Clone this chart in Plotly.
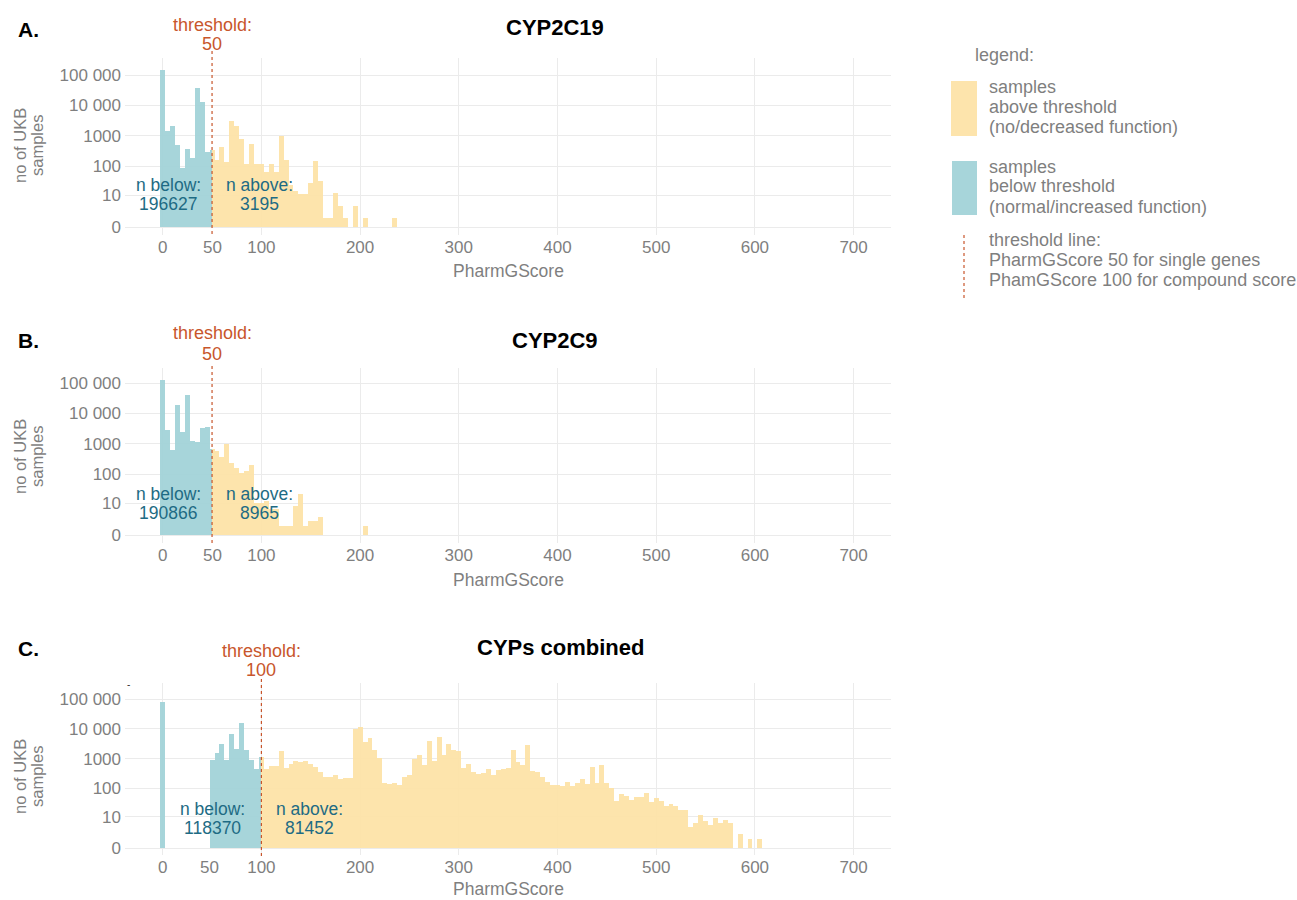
import numpy as np
import plotly.graph_objects as go

W, H = 1297, 900

# ---------------- data (bin centres, width 5) ----------------
BIN_WIDTH = 5

# Panel A: CYP2C19
a_centers = [0, 5, 10, 15, 20, 25, 30, 35, 40, 45, 50, 55, 60, 65, 70, 75, 80, 85, 90, 95,
             100, 105, 110, 115, 120, 125, 130, 135, 140, 145, 150, 155, 160, 165, 170, 175,
             180, 185, 190, 195, 200, 205, 235]
a_counts = [143000, 1440, 2050, 480, 88, 380, 180, 37000, 13200, 300, 340, 160, 430, 140, 3000,
            2100, 800, 115, 550, 120, 118, 63, 116, 63, 965, 160, 23, 14, 11, 11, 26, 150, 32,
            1, 1, 12, 4, 1, 0, 4, 0, 1, 1]

# Panel B: CYP2C9
b_centers = [0, 5, 10, 15, 20, 25, 30, 35, 40, 45, 50, 55, 60, 65, 70, 75, 80, 85, 90, 95,
             100, 105, 110, 115, 120, 125, 130, 135, 140, 145, 150, 155, 160, 205]
b_counts = [122000, 2900, 640, 18300, 2400, 40000, 1200, 1130, 3300, 3700, 670, 570, 360, 950,
            235, 160, 110, 125, 207, 10, 10, 12, 6, 6, 1, 1, 1, 8, 22, 1, 2, 2, 3, 1]

# Panel C: CYPs combined
c_centers = [0] + list(range(50, 610, 5))
c_counts = [81000,
            900, 1500, 3100, 900, 6500, 2050, 16000, 1950, 900, 450,            # 50-95
            1100, 435, 580, 580, 1800, 470, 640, 830, 770, 800,                # 100-145
            640, 510, 365, 245, 245, 280, 205, 215, 215, 9600,                 # 150-195
            11200, 3700, 4800, 1950, 1020, 148, 140, 155, 130, 245,            # 200-245
            285, 980, 1340, 615, 3750, 800, 5200, 1370, 3200, 1880,            # 250-295
            1780, 490, 655, 348, 300, 338, 442, 282, 418, 455,                 # 300-345
            480, 1960, 795, 630, 2950, 395, 350, 238, 168, 130,                # 350-395
            130, 121, 160, 122, 148, 205, 140, 508, 148, 595,                  # 400-445
            152, 100, 36, 66, 55, 40, 52, 52, 67, 33,                          # 450-495
            48, 38, 24, 28, 25, 18, 18, 4, 6, 12,                              # 500-545
            7, 5, 9, 6, 8, 6, 0, 2, 0, 1,                                      # 550-595
            0, 1]                                                             # 600-605

panels = [
    dict(title="CYP2C19", letter="A.", centers=a_centers, counts=a_counts, thr=50,
         n_below="196627", n_above="3195"),
    dict(title="CYP2C9", letter="B.", centers=b_centers, counts=b_counts, thr=50,
         n_below="190866", n_above="8965"),
    dict(title="CYPs combined", letter="C.", centers=c_centers, counts=c_counts, thr=100,
         n_below="118370", n_above="81452"),
]

y_tick_values = [0, 10, 100, 1000, 10000, 100000]
y_tick_text = ["0", "10", "100", "1000", "10 000", "100 000"]
x_tick_values = [0, 100, 200, 300, 400, 500, 600, 700]
x_tick_text = ["0", "100", "200", "300", "400", "500", "600", "700"]

legend_above = ["samples", "above threshold", "(no/decreased function)"]
legend_below = ["samples", "below threshold", "(normal/increased function)"]
legend_line = ["threshold line:", "PharmGScore 50 for single genes",
               "PhamGScore 100 for compound score"]

# ---------------- styles ----------------
BLUE = "rgba(160,209,215,0.92)"
YELLOW = "rgba(253,226,165,0.92)"
THR_COL = "#c8562c"
N_COL = "#1e6b84"
GREY = "#7f7f7f"
GRID = "#ebebeb"
FONT = "Liberation Sans, Arial, Helvetica, sans-serif"

# layout geometry in pixels (top, zero-line, px per decade)
geo = [
    dict(top=58, zero=227, dec=30.4, line=(48, 234), thr_txt=(25, 44), title_y=28,
         n_y=(185, 204), n_x=(168, 259), ytitle=146, xtitle=271, lbl50=(50, 247)),
    dict(top=368, zero=535, dec=30.4, line=(363, 543), thr_txt=(333, 354), title_y=340,
         n_y=(494, 513), n_x=(168, 259), ytitle=457, xtitle=580, lbl50=(50, 555)),
    dict(top=683, zero=848, dec=29.8, line=(678, 856), thr_txt=(651, 670), title_y=647,
         n_y=(809, 828), n_x=(212, 309), ytitle=777, xtitle=889, lbl50=(47, 867)),
]
X_LEFT, X_RIGHT = 125, 891
X0_PX, PX_PER_UNIT = 162.7, 0.987


def px(xp):
    return xp / W


def py(ypix):
    return 1 - ypix / H


x_range = [(X_LEFT - X0_PX) / PX_PER_UNIT, (X_RIGHT - X0_PX) / PX_PER_UNIT]

fig = go.Figure()
annotations = []
shapes = []

for i, (p, g) in enumerate(zip(panels, geo)):
    idx = "" if i == 0 else str(i + 1)
    xa, ya = "x" + idx, "y" + idx
    thr = p["thr"]
    bx, bw, by, yx, yw, yy = [], [], [], [], [], []
    for c, n in zip(p["centers"], p["counts"]):
        if n <= 0:
            continue
        h = np.log10(1 + n)
        lo, hi = c - BIN_WIDTH / 2, c + BIN_WIDTH / 2
        if lo < thr:
            b_hi = min(hi, thr)
            bx.append((lo + b_hi) / 2); bw.append(b_hi - lo); by.append(h)
        if hi > thr:
            y_lo = max(lo, thr)
            yx.append((y_lo + hi) / 2); yw.append(hi - y_lo); yy.append(h)
    fig.add_trace(go.Bar(x=bx, y=by, width=bw, marker=dict(color=BLUE, line=dict(width=0)),
                         xaxis=xa, yaxis=ya, showlegend=False, hoverinfo="skip"))
    fig.add_trace(go.Bar(x=yx, y=yy, width=yw, marker=dict(color=YELLOW, line=dict(width=0)),
                         xaxis=xa, yaxis=ya, showlegend=False, hoverinfo="skip"))

    bottom_px = g["zero"] + 0.25 * g["dec"]
    y_top = (g["zero"] - g["top"]) / g["dec"]
    ydom = [py(bottom_px), py(g["top"])]
    common = dict(showgrid=True, gridcolor=GRID, gridwidth=1, zeroline=False, showline=False,
                  ticks="", automargin=False,
                  tickfont=dict(family=FONT, size=17, color=GREY))
    fig.update_layout({
        "xaxis" + idx: dict(domain=[px(X_LEFT), px(X_RIGHT)], range=x_range, anchor=ya,
                            tickvals=x_tick_values, ticktext=x_tick_text, **common),
        "yaxis" + idx: dict(domain=ydom, range=[-0.25, y_top], anchor=xa,
                            tickvals=[np.log10(1 + v) for v in y_tick_values],
                            ticktext=y_tick_text, ticklabelstandoff=3, **common),
    })

    # threshold line
    shapes.append(dict(type="line", xref=xa, yref="paper", x0=thr, x1=thr,
                       y0=py(g["line"][1]), y1=py(g["line"][0]),
                       line=dict(color=THR_COL, width=1.2, dash="dot")))
    # threshold text
    for txt, yp in zip(["threshold:", str(thr)], g["thr_txt"]):
        annotations.append(dict(text=txt, xref=xa, yref="paper", x=thr, y=py(yp),
                                xanchor="center", yanchor="middle", showarrow=False,
                                font=dict(family=FONT, size=18, color=THR_COL)))
    # extra "50" tick label
    annotations.append(dict(text="50", xref=xa, yref="paper", x=g["lbl50"][0],
                            y=py(g["lbl50"][1]), xanchor="center", yanchor="middle",
                            showarrow=False, font=dict(family=FONT, size=17, color=GREY)))
    # titles
    annotations.append(dict(text="<b>" + p["title"] + "</b>", xref="paper", yref="paper",
                            x=px(555 if i < 2 else 560), y=py(g["title_y"]), xanchor="center",
                            yanchor="middle", showarrow=False,
                            font=dict(family=FONT, size=22, color="black")))
    annotations.append(dict(text="<b>" + p["letter"] + "</b>", xref="paper", yref="paper",
                            x=px(16), y=py(g["title_y"] + 1), xanchor="left", yanchor="middle",
                            showarrow=False, font=dict(family=FONT, size=21, color="black")))
    # n below / n above
    for xc, lines in zip(g["n_x"], [["n below:", p["n_below"]], ["n above:", p["n_above"]]]):
        for txt, yp in zip(lines, g["n_y"]):
            annotations.append(dict(text=txt, xref="paper", yref="paper", x=px(xc), y=py(yp),
                                    xanchor="center", yanchor="middle", showarrow=False,
                                    font=dict(family=FONT, size=17.5, color=N_COL)))
    # axis titles
    for txt, xc in zip(["no of UKB", "samples"], [20, 37]):
        annotations.append(dict(text=txt, xref="paper", yref="paper", x=px(xc),
                                y=py(g["ytitle"]), xanchor="center", yanchor="middle",
                                textangle=-90, showarrow=False,
                                font=dict(family=FONT, size=16.5, color=GREY)))
    annotations.append(dict(text="PharmGScore", xref="paper", yref="paper", x=px(508),
                            y=py(g["xtitle"]), xanchor="center", yanchor="middle",
                            showarrow=False, font=dict(family=FONT, size=17.5, color=GREY)))

# small stray mark in panel C
annotations.append(dict(text="-", xref="paper", yref="paper", x=px(128), y=py(684),
                        xanchor="center", yanchor="middle", showarrow=False,
                        font=dict(family=FONT, size=10, color="#333333")))

# ---------------- legend (drawn manually) ----------------
annotations.append(dict(text="legend:", xref="paper", yref="paper", x=px(973), y=py(55),
                        xanchor="left", yanchor="middle", showarrow=False,
                        font=dict(family=FONT, size=18, color=GREY)))
shapes.append(dict(type="rect", xref="paper", yref="paper", x0=px(951), x1=px(977),
                   y0=py(136), y1=py(81), fillcolor=YELLOW, line=dict(width=0)))
shapes.append(dict(type="rect", xref="paper", yref="paper", x0=px(952), x1=px(977),
                   y0=py(215), y1=py(161), fillcolor=BLUE, line=dict(width=0)))
shapes.append(dict(type="line", xref="paper", yref="paper", x0=px(964), x1=px(964),
                   y0=py(298), y1=py(233), line=dict(color=THR_COL, width=1.2, dash="dot")))
for lines, ys in [(legend_above, [87, 107, 127]), (legend_below, [167, 186, 207]),
                  (legend_line, [240, 260, 280])]:
    for txt, yp in zip(lines, ys):
        annotations.append(dict(text=txt, xref="paper", yref="paper", x=px(987), y=py(yp),
                                xanchor="left", yanchor="middle", showarrow=False,
                                font=dict(family=FONT, size=18, color=GREY)))

fig.update_layout(
    width=W, height=H, margin=dict(l=0, r=0, t=0, b=0),
    paper_bgcolor="white", plot_bgcolor="white",
    barmode="overlay", bargap=0,
    annotations=annotations, shapes=shapes,
    font=dict(family=FONT),
)

fig.write_html("out.html", config={"displayModeBar": False},
               post_script="document.body.style.margin='0';document.body.style.padding='0';")
